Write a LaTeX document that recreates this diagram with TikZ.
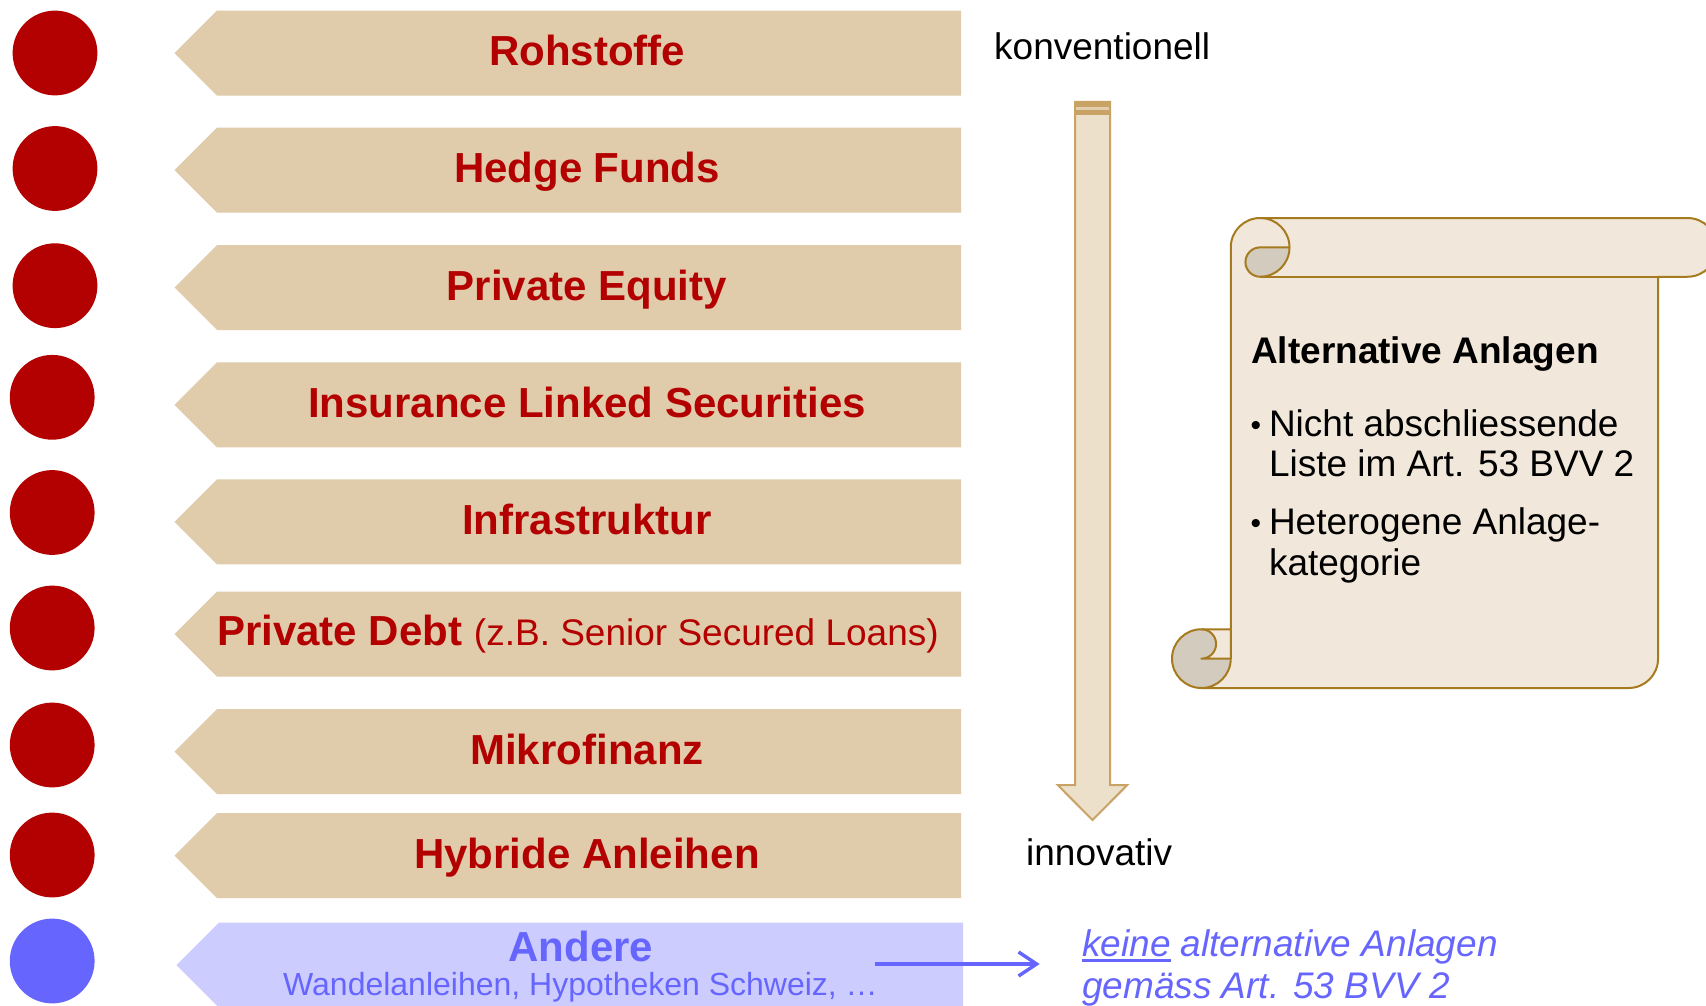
\documentclass[tikz,border=0pt]{standalone}
\usepackage{fontspec}
\setmainfont{Liberation Sans}
\usetikzlibrary{arrows.meta}
\definecolor{myred}{HTML}{B30000}
\definecolor{bannerfill}{HTML}{E0CBAA}
\definecolor{bluedot}{HTML}{6666FF}
\definecolor{bluefill}{HTML}{CCCCFF}
\definecolor{paper}{HTML}{F1E8DB}
\definecolor{paperline}{HTML}{A67A1E}
\definecolor{curlgrey}{HTML}{D3CBBE}
\definecolor{arrowfill}{HTML}{EDE0CA}
\definecolor{arrowline}{HTML}{C9A266}
\newcommand\myul[1]{\setbox0\hbox{#1}\rlap{\rule[-6pt]{\wd0}{2.7pt}}\box0\relax}
\tikzset{
  dot/.style={circle, minimum size=84.8pt, inner sep=0pt, draw=none},
  bannerf/.style={fill=bannerfill},
  lab/.style={font=\fontsize{42}{48}\selectfont\bfseries, text=myred, inner sep=0pt, anchor=base},
  plain/.style={font=\fontsize{37}{42}\selectfont, text=black, inner sep=0pt, anchor=base west},
  scrollline/.style={draw=paperline, line width=2pt, line join=round},
}
\begin{document}
\begin{tikzpicture}[x=1pt,y=-1pt]
\useasboundingbox (0,0) rectangle (1706,1006);
\fill[white] (0,0) rectangle (1706,1006);
\clip (0,0) rectangle (1706,1006);

% circles
\node[dot, fill=myred] (c1) at (55,53) {};
\node[dot, fill=myred] (c2) at (55,168.5) {};
\node[dot, fill=myred] (c3) at (55,285.7) {};
\node[dot, fill=myred] (c4) at (52.2,397.3) {};
\node[dot, fill=myred] (c5) at (52.2,512.5) {};
\node[dot, fill=myred] (c6) at (52.2,628) {};
\node[dot, fill=myred] (c7) at (52.2,745) {};
\node[dot, fill=myred] (c8) at (52.2,855) {};
\node[dot, fill=bluedot] (c9) at (52.2,961) {};

% banners
\foreach \t in {10.7,127.7,245,362.3,479.3,591.7,709,813}{
  \fill[bannerf] (217,\t) -- (961,\t) -- (961,\t+85) -- (217,\t+85) -- (174.5,\t+42.5) -- cycle;
}
\fill[bluefill] (219,922.7) -- (963,922.7) -- (963,1007.7) -- (219,1007.7) -- (176.5,965.2) -- cycle;

% banner labels
\node[lab] (l1) at (587,65.7) {Rohstoffe};
\node[lab] (l2) at (587,182.7) {Hedge Funds};
\node[lab] (l3) at (587,300) {Private Equity};
\node[lab] (l4) at (587,417.3) {Insurance Linked Securities};
\node[lab] (l5) at (587,534.3) {Infrastruktur};
\node[lab] (l6) at (578,645.5) {Private Debt {\mdseries\fontsize{37}{42}\selectfont (z.B. Senior Secured Loans)}};
\node[lab] (l7) at (587,764) {Mikrofinanz};
\node[lab] (l8) at (587,868) {Hybride Anleihen};
\node[lab, text=bluedot] (l9) at (581,961.7) {Andere};
\node[inner sep=0pt, anchor=base, text=bluedot, font=\fontsize{32}{36}\selectfont] (l9b) at (580.5,995) {Wandelanleihen, Hypotheken Schweiz, …};

% vertical arrow
\filldraw[fill=arrowfill, draw=arrowline, line width=2pt, line join=miter]
  (1075,102) -- (1110,102) -- (1110,785) -- (1127.3,785) -- (1092.5,820) -- (1057.7,785) -- (1075,785) -- cycle;
\fill[arrowline] (1074,101) rectangle (1111,115);
\draw[arrowfill!70!arrowline, line width=2.4pt] (1076,108.6) -- (1109,108.6);

\node[plain] (konv) at (994,60) {konventionell};
\node[plain] (inno) at (1026,865) {innovativ};

% scroll
\fill[paper] (1201.375,688) arc[start angle=90, end angle=0, radius=29.375]
  -- (1230.75,247.375) arc[start angle=180, end angle=270, radius=29.375]
  -- (1687.425,218) arc[start angle=270, end angle=450, radius=29.375]
  -- (1658.05,276.75) -- (1658.05,658.625) arc[start angle=0, end angle=90, radius=29.375]
  -- cycle;
\fill[curlgrey] (1201.375,658.625) circle[radius=29.375];
\fill[paper] (1201.375,629.25) -- (1230.75,629.25) -- (1230.75,658.625) -- (1201.375,658.625)
  arc[start angle=90, end angle=-90, radius=14.6875] -- cycle;
\fill[curlgrey] (1289.5,247.375) arc[start angle=0, end angle=90, radius=29.375]
  arc[start angle=90, end angle=270, radius=14.6875] -- cycle;
\draw[scrollline] (1230.75,629.25) -- (1230.75,247.375) arc[start angle=180, end angle=270, radius=29.375]
  -- (1687.425,218) arc[start angle=270, end angle=450, radius=29.375]
  -- (1658.05,276.75) -- (1658.05,658.625) arc[start angle=0, end angle=90, radius=29.375]
  -- (1201.375,688) arc[start angle=90, end angle=270, radius=29.375] -- cycle;
\draw[scrollline] (1260.125,218) arc[start angle=270, end angle=450, radius=29.375]
  arc[start angle=90, end angle=270, radius=14.6875] -- (1289.5,247.375);
\draw[scrollline] (1658.05,276.75) -- (1260.125,276.75);
\draw[scrollline] (1201.375,629.25) arc[start angle=-90, end angle=90, radius=14.6875] -- (1230.75,658.625);
\draw[scrollline] (1201.375,688) arc[start angle=90, end angle=0, radius=29.375] -- (1230.75,629.25);

% scroll text
\node[plain, font=\fontsize{37}{42}\selectfont\bfseries] (st) at (1251,363.3) {Alternative Anlagen};
\node[plain, font=\fontsize{30}{34}\selectfont] (bu1) at (1250.5,435.5) {•};
\node[plain] (s1) at (1268.8,436.7) {Nicht abschliessende};
\node[plain] (s2) at (1268.8,476) {Liste im Art. 53 BVV 2};
\node[plain, font=\fontsize{30}{34}\selectfont] (bu2) at (1250.5,533.1) {•};
\node[plain] (s3) at (1268.8,534.3) {Heterogene Anlage-};
\node[plain] (s4) at (1268.8,575) {kategorie};

% blue arrow and text
\coordinate (bs) at (874.5,964);
\coordinate (be) at (1039.7,964);
\draw[bluedot, line width=3.5pt, -{Straight Barb[length=18pt,width=24pt]}] (bs) -- (be);
\node[plain, text=bluedot, font=\fontsize{37}{42}\selectfont\itshape] (k1) at (1082,956) {\myul{keine} alternative Anlagen};
\node[plain, text=bluedot, font=\fontsize{37}{42}\selectfont\itshape] (k2) at (1082,998) {gemäss Art. 53 BVV 2};
\end{tikzpicture}
\end{document}
